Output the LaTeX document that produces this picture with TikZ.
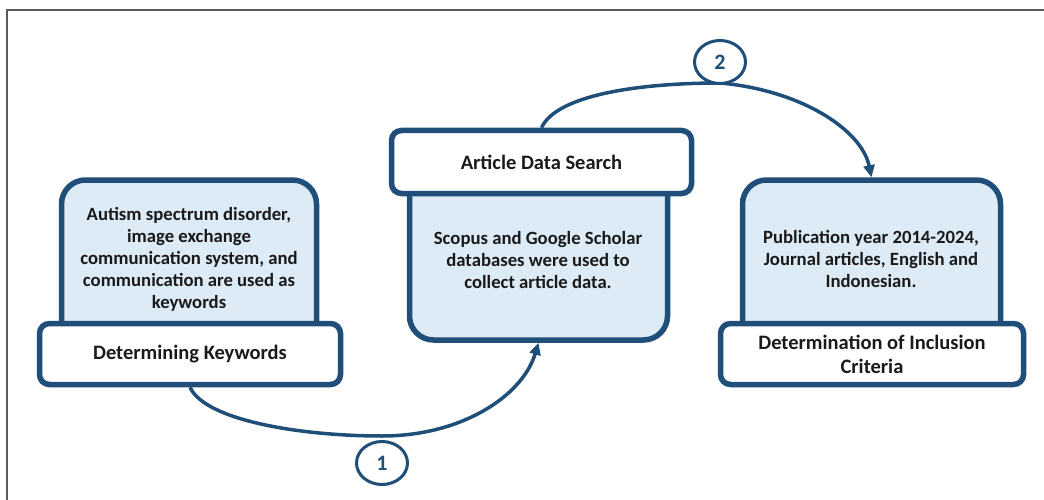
\documentclass[tikz,border=0pt]{standalone}
\usepackage{fontspec}
\setmainfont{Carlito}
\usetikzlibrary{arrows.meta,shapes.geometric}
\definecolor{dblue}{HTML}{1F4E79}
\definecolor{lblue}{HTML}{DDEBF7}
\definecolor{framegray}{HTML}{5A5A5A}
\definecolor{txt}{HTML}{1A1A1A}
\begin{document}
\begin{tikzpicture}[x=1pt,y=-1pt,
 bluebox/.style={draw=dblue,line width=5.5pt,fill=lblue,rounded corners=24pt,inner sep=0pt},
 whitebox/.style={draw=dblue,line width=5.5pt,fill=white,rounded corners=10pt,inner sep=0pt,
   font=\bfseries\fontsize{20.5}{24}\selectfont,align=center,text=txt},
 bodytext/.style={font=\bfseries\fontsize{18.7}{22}\selectfont,align=center,text=txt,inner sep=0pt},
 conn/.style={draw=dblue,line width=3.5pt,-{Triangle[length=12pt,width=11pt]}},
 num/.style={ellipse,draw=dblue,line width=3pt,fill=white,minimum width=51pt,minimum height=43pt,
   inner sep=0pt,font=\bfseries\fontsize{22}{24}\selectfont,text=dblue}]
\useasboundingbox (0,0) rectangle (1044,500);
\fill[white] (0,0) rectangle (1044,500);
\draw[framegray,line width=1.5pt] (1044,10) -- (7,10) -- (7,500);
% box 1
\node[bluebox,minimum width=255pt,minimum height=170pt] (b1) at (189,265) {};
\node[whitebox,minimum width=301pt,minimum height=61pt] (w1) at (190,354) {Determining Keywords};
\node[bodytext] (t1) at (189,259) {Autism spectrum disorder,\\ image exchange\\ communication system, and\\ communication are used as\\ keywords};
% box 2
\node[bluebox,minimum width=258pt,minimum height=180pt] (b2) at (538.5,250) {};
\node[whitebox,minimum width=300pt,minimum height=63pt] (w2) at (541.5,162) {Article Data Search};
\node[bodytext] (t2) at (538,260) {Scopus and Google Scholar\\ databases were used to\\ collect article data.};
% box 3
\node[bluebox,minimum width=258pt,minimum height=170pt] (b3) at (871.5,265) {};
\node[whitebox,minimum width=303pt,minimum height=61pt] (w3) at (872,354) {Determination of Inclusion\\ Criteria};
\node[bodytext] (t3) at (871,259) {Publication year 2014-2024,\\ Journal articles, English and\\ Indonesian.};
% connectors
\coordinate (m1) at (382,436);
\coordinate (m2) at (720,83);
\draw[conn] (w1.south) .. controls +(15,33) and +(-82,0) .. (m1) .. controls +(80,0) and +(-16,53) .. (b2.south);
\draw[conn] (w2.north) .. controls +(15,-33) and +(-80,0) .. (m2) .. controls +(80,7) and +(-10,-48) .. (b3.north);
% numbers
\node[num] (c1) at (382,463) {1};
\node[num] (c2) at (720,62) {2};
\end{tikzpicture}
\end{document}
